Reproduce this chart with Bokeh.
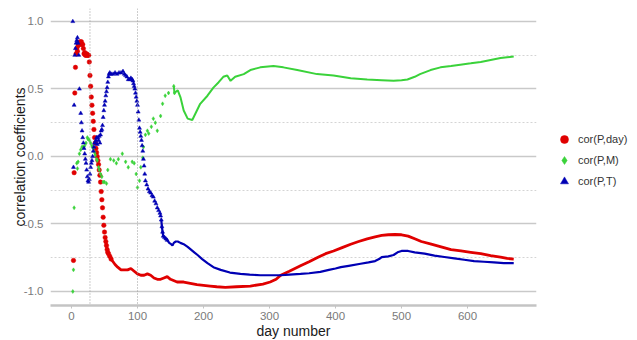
from bokeh.plotting import figure
from bokeh.models import (Range1d, FixedTicker, PrintfTickFormatter, Span,
                          Legend, LegendItem, ColumnDataSource, Title)
from bokeh.embed import file_html
from bokeh.resources import INLINE

# ---------------- data ----------------
red_day = [3, 4, 5, 6, 7, 8, 9, 10, 11, 12, 13, 14, 15, 16, 17, 18, 19, 20, 21, 22, 23, 24, 25,
           26, 27, 28, 29, 30, 31, 32, 33, 34, 35, 36, 37, 38, 39, 40, 41, 42, 43, 44, 45, 46,
           47, 48, 49, 50, 51, 52, 53, 54, 55, 56, 58, 60, 63, 66, 70, 75, 80, 85, 90, 95, 100,
           105, 110, 115, 120, 125, 130, 135, 140, 145, 150, 160, 170, 180, 190, 200, 210, 220,
           233, 250, 271, 290, 301, 310, 317, 330, 347, 360, 372, 385, 397, 410, 423, 435, 448,
           460, 470, 480, 490, 500, 510, 520, 530, 545, 560, 575, 590, 605, 620, 635, 650, 660, 670]
red_val = [-0.77, -0.12, 0.47, 0.66, 0.76, 0.80, 0.78, 0.82, 0.84, 0.83, 0.85, 0.84, 0.85, 0.83,
           0.83, 0.80, 0.76, 0.77, 0.75, 0.75, 0.76, 0.75, 0.75,
           0.75, 0.70, 0.60, 0.52, 0.44, 0.38, 0.32, 0.26, 0.20, 0.14, 0.10, 0.06, 0.03, 0.00,
           -0.03, -0.06, -0.10, -0.14, -0.19, -0.26, -0.32, -0.38, -0.45, -0.51, -0.56, -0.60,
           -0.63, -0.66, -0.69, -0.71, -0.72, -0.74, -0.76, -0.78, -0.80, -0.82, -0.84, -0.84,
           -0.84, -0.83, -0.85, -0.87, -0.88, -0.88, -0.87, -0.88, -0.90, -0.91, -0.91, -0.90,
           -0.89, -0.91, -0.93, -0.93, -0.94, -0.95, -0.955, -0.96, -0.965, -0.97, -0.965, -0.96,
           -0.945, -0.93, -0.91, -0.88, -0.85, -0.81, -0.78, -0.75, -0.72, -0.70, -0.675, -0.65,
           -0.63, -0.61, -0.595, -0.585, -0.58, -0.578, -0.58, -0.59, -0.61, -0.63, -0.65, -0.67,
           -0.69, -0.70, -0.71, -0.72, -0.735, -0.745, -0.755, -0.76]

green_day = [2, 3, 4, 8, 9, 10, 12, 14, 16, 18, 20, 22, 24, 25, 27, 29, 31, 32, 33, 35, 36, 38,
             39, 41, 42, 44, 46, 48, 50, 53, 55, 59, 64, 68, 71, 77, 82, 86, 92, 95, 98, 100,
             103, 105, 108, 109, 112, 115, 117, 121, 124, 127, 130, 135, 138, 142, 147, 155,
             156, 161, 165, 170, 176, 183, 188, 195, 206, 215, 223, 230, 236, 241, 248, 261,
             271, 286, 306, 321, 342, 372, 397, 423, 448, 470, 488, 500, 509, 520, 528, 544,
             559, 575, 589, 605, 620, 635, 650, 660, 670]
green_val = [-1.0, -0.84, -0.38, -0.05, -0.09, -0.04, 0.02, 0.05, 0.07, 0.07, 0.08, 0.10, 0.14,
             0.13, 0.12, 0.10, 0.08, 0.07, 0.06, 0.03, 0.01, -0.02, -0.03, -0.08, -0.10, -0.13,
             -0.15, -0.19, -0.19, -0.20, -0.10, -0.02, -0.03, -0.05, -0.02, 0.02, -0.04, -0.08,
             -0.04, -0.05, -0.13, -0.23, -0.18, -0.08, -0.01, 0.07, 0.16, 0.19, 0.17, 0.22,
             0.28, 0.25, 0.19, 0.30, 0.39, 0.45, 0.47, 0.52, 0.47, 0.49, 0.44, 0.34, 0.28, 0.27,
             0.32, 0.39, 0.45, 0.51, 0.55, 0.59, 0.60, 0.56, 0.59, 0.61, 0.64, 0.66, 0.67, 0.66,
             0.64, 0.61, 0.60, 0.58, 0.57, 0.565, 0.56, 0.565, 0.57, 0.59, 0.61, 0.64, 0.66,
             0.67, 0.68, 0.69, 0.70, 0.715, 0.73, 0.735, 0.74]

blue_day = [2, 3, 4, 5, 6, 7, 8, 9, 10, 11, 12, 14, 15, 16, 17, 18, 19, 20, 21, 22, 23, 24, 25,
            26, 27, 28, 29, 30, 31, 32, 33, 34, 35, 36, 37, 38, 39, 40, 41, 42, 43, 44, 45, 46,
            47, 48, 49, 50, 51, 52, 53, 54, 55, 56, 57, 58, 60, 63, 66, 69, 72, 75, 78, 80, 82,
            84, 86, 88, 90, 92, 93, 94, 95, 96, 97, 98, 99, 100, 101, 102, 103, 104, 105, 106,
            107, 108, 109, 110, 111, 112, 114, 116, 118, 120, 122, 124, 126, 128, 130, 132, 134,
            135, 136, 137, 138, 139, 141, 143, 145, 148, 151, 153, 155, 158, 161, 165, 170, 176,
            181, 186, 191, 198, 206, 215, 226, 240, 256, 270, 286, 300, 317, 330, 347, 360, 377,
            390, 400, 408, 420, 438, 450, 460, 466, 470, 480, 488, 494, 500, 510, 520, 535, 550,
            565, 580, 595, 610, 625, 640, 655, 670]
blue_val = [1.0, -0.08, 0.38, 0.75, 0.80, 0.84, 0.86, 0.88, 0.84, 0.75, 0.50, 0.32, 0.25, 0.19,
            0.14, 0.10, 0.06, 0.02, -0.02, -0.05, -0.10, -0.15, -0.18, -0.19, -0.17, -0.13, -0.08,
            -0.05, -0.03, 0.00, 0.04, 0.07, 0.10, 0.10, 0.12, 0.14, 0.09, 0.14, 0.12, 0.15, 0.10,
            0.16, 0.19, 0.20, 0.23, 0.29, 0.34, 0.38, 0.41, 0.45, 0.48, 0.51, 0.55, 0.59, 0.61,
            0.62, 0.61, 0.61, 0.62, 0.61, 0.62, 0.62, 0.63, 0.61, 0.60, 0.59, 0.57, 0.57, 0.58,
            0.57, 0.56, 0.54, 0.52, 0.50, 0.47, 0.44, 0.41, 0.38, 0.33, 0.27, 0.21, 0.18, 0.15,
            0.12, 0.08, 0.04, -0.02, -0.07, -0.13, -0.18, -0.21, -0.24, -0.26, -0.27, -0.29,
            -0.30, -0.33, -0.35, -0.38, -0.40, -0.42, -0.44, -0.47, -0.52, -0.56, -0.59, -0.60,
            -0.61, -0.62, -0.64, -0.65, -0.66, -0.64, -0.63, -0.63, -0.64, -0.65, -0.67, -0.69,
            -0.71, -0.73, -0.76, -0.79, -0.82, -0.84, -0.86, -0.87, -0.875, -0.88, -0.88, -0.88,
            -0.875, -0.87, -0.865, -0.855, -0.84, -0.83, -0.82, -0.81, -0.795, -0.785, -0.775,
            -0.76, -0.745, -0.74, -0.73, -0.71, -0.70, -0.70, -0.71, -0.72, -0.735, -0.745,
            -0.755, -0.765, -0.775, -0.78, -0.785, -0.79, -0.79]

series_names = ["cor(P,day)", "cor(P,M)", "cor(P,T)"]
x_ticks = [0, 100, 200, 300, 400, 500, 600]
y_ticks = [-1.0, -0.5, 0.0, 0.5, 1.0]
y_minor = [-0.75, -0.25, 0.25, 0.75]
ref_days = [28, 100]
# day (per series: red, green, blue) from which the daily points are dense enough to read as a line
dense_from = [52, 150, 136]

RED, GREEN, BLUE = "#e00000", "#3ad23a", "#0000b4"
FONT = "Liberation Sans"

p = figure(frame_width=486, frame_height=297,
           x_range=Range1d(-31.8, 704.5), y_range=Range1d(-1.104, 1.096),
           output_backend="svg", toolbar_location=None,
           min_border_left=0, min_border_right=93, min_border_top=8, min_border_bottom=0)
p.outline_line_color = None
p.background_fill_color = "white"
p.border_fill_color = "white"

# grid
p.xgrid.visible = False
p.yaxis.ticker = FixedTicker(ticks=y_ticks, minor_ticks=y_minor)
p.ygrid.grid_line_color = "#c9c9c9"
p.ygrid.grid_line_width = 1.5
p.ygrid.minor_grid_line_color = "#d4d4d4"
p.ygrid.minor_grid_line_dash = "2 2"
p.ygrid.minor_grid_line_width = 1

# axes
p.xaxis.ticker = FixedTicker(ticks=x_ticks)
p.xaxis.axis_line_color = "#c4c4c4"
p.xaxis.axis_line_width = 2.5
p.xaxis.major_tick_line_color = "#c4c4c4"
p.xaxis.major_tick_out = 3
p.xaxis.major_tick_in = 0
p.xaxis.minor_tick_line_color = None
p.xaxis.major_label_standoff = 3
p.xaxis.axis_label = "day number"
p.xaxis.axis_label_standoff = 0

p.yaxis.axis_line_color = None
p.yaxis.major_tick_line_color = None
p.yaxis.minor_tick_line_color = None
p.yaxis.major_tick_out = 0
p.yaxis.major_tick_in = 0
p.yaxis.minor_tick_out = 0
p.yaxis.major_label_standoff = 7
p.yaxis.formatter = PrintfTickFormatter(format="%.1f")
p.yaxis.axis_label = "correlation coefficients"
p.yaxis.axis_label_standoff = -7

for ax in (p.xaxis[0], p.yaxis[0]):
    ax.major_label_text_font = FONT
    ax.major_label_text_font_size = "11.5px"
    ax.major_label_text_color = "#7a7a7a"
    ax.axis_label_text_font = FONT
    ax.axis_label_text_font_size = "14px"
    ax.axis_label_text_font_style = "normal"
    ax.axis_label_text_color = "#1a1a1a"

# thin blank strip on the far left, so that the y-axis title sits off the edge
p.add_layout(Title(text=" ", text_font_size="5px", standoff=0, offset=0), "left")

for d in ref_days:
    p.add_layout(Span(location=d, dimension="height", line_color="#9a9a9a",
                      line_dash="1 2", line_width=1))

renderers = []
specs = [(red_day, red_val, RED, "circle", 4.5, 2.8),
         (green_day, green_val, GREEN, "diamond", 4, 2.0),
         (blue_day, blue_val, BLUE, "triangle", 4, 2.2)]
for (days, vals, col, marker, size, lw), start in zip(specs, dense_from):
    sparse = ColumnDataSource(dict(x=[d for d in days if d <= start + 10],
                                   y=[v for d, v in zip(days, vals) if d <= start + 10]))
    dense = ColumnDataSource(dict(x=[d for d in days if d >= start],
                                  y=[v for d, v in zip(days, vals) if d >= start]))
    p.line("x", "y", source=dense, line_color=col, line_width=lw)
    r = p.scatter("x", "y", source=sparse, marker=marker, size=size,
                  fill_color=col, line_color=col, line_width=0.5)
    renderers.append(r)

legend = Legend(items=[LegendItem(label=n, renderers=[r]) for n, r in zip(series_names, renderers)],
                location=(18, 114), padding=0, margin=0, spacing=1,
                glyph_width=20, glyph_height=20, label_standoff=4,
                label_text_font=FONT, label_text_font_size="11px",
                label_text_color="#333333",
                border_line_color=None, background_fill_alpha=0)
p.add_layout(legend, "right")

open("out.html", "w").write(file_html(p, INLINE))
